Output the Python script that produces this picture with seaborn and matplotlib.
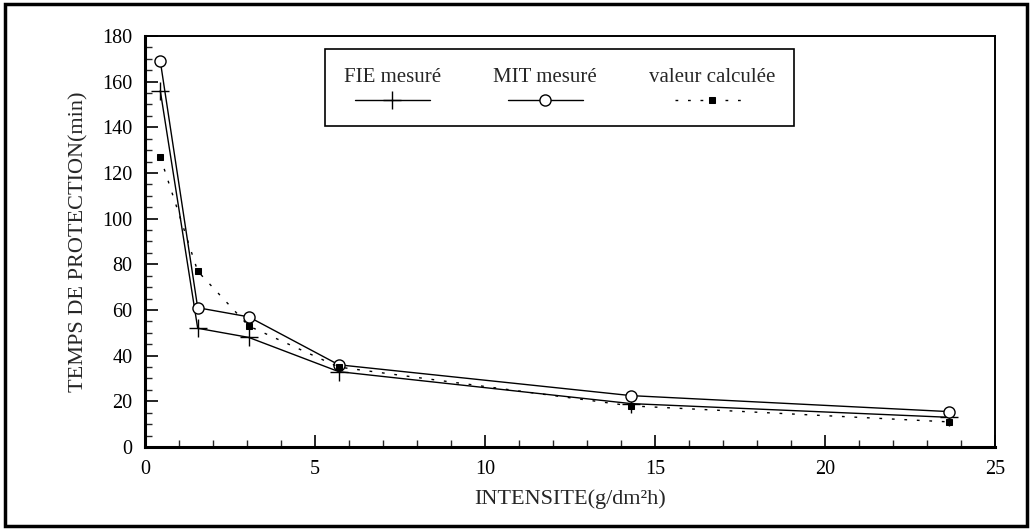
import matplotlib
matplotlib.use("Agg")
import matplotlib.pyplot as plt
import seaborn as sns
from matplotlib.offsetbox import VPacker
from matplotlib.patches import Rectangle
from matplotlib.ticker import MultipleLocator

# Intensity (g/dm²h) and protection times (min)
intensite = [0.45, 1.55, 3.05, 5.7, 14.3, 23.65]
fie_mesure = [156, 52, 48, 33, 19, 13]
mit_mesure = [169, 61, 57, 36, 22.5, 15.5]
valeur_calculee = [127, 77, 53, 35, 18, 11]

labels = ["FIE mesuré", "MIT mesuré", "valeur calculée"]

sns.set_style("ticks")
plt.rcParams["font.family"] = ["Liberation Serif", "DejaVu Serif"]

fig = plt.figure(figsize=(10.32, 5.30), dpi=100)
ax = fig.add_axes([0.1405, 0.1566, 0.8236, 0.7755])

sns.lineplot(x=intensite, y=fie_mesure, ax=ax, color="black", linewidth=1.0,
             marker="+", markersize=13, markeredgewidth=1.0,
             markeredgecolor="black", label=labels[0])
sns.lineplot(x=intensite, y=mit_mesure, ax=ax, color="black", linewidth=1.0,
             marker="o", markersize=8, markerfacecolor="white",
             markeredgecolor="black", markeredgewidth=1.0, label=labels[1])
sns.lineplot(x=intensite, y=valeur_calculee, ax=ax, color="black", linewidth=1.0,
             linestyle=(0, (2, 7)), marker="s", markersize=5,
             markerfacecolor="black", markeredgecolor="black", label=labels[2])

ax.set_xlim(0, 25)
ax.set_ylim(0, 180)
ax.xaxis.set_major_locator(MultipleLocator(5))
ax.xaxis.set_minor_locator(MultipleLocator(1))
ax.yaxis.set_major_locator(MultipleLocator(20))
ax.yaxis.set_minor_locator(MultipleLocator(5))
ax.tick_params(which="major", direction="in", length=9, width=1.2,
               labelsize=14.5, colors="black", pad=9)
ax.tick_params(which="minor", direction="in", length=5, width=1.0)
ax.tick_params(top=False, right=False, which="both")
for side in ["left", "bottom"]:
    ax.spines[side].set_linewidth(2.2)
for side in ["top", "right"]:
    ax.spines[side].set_linewidth(1.4)
    ax.spines[side].set_visible(True)
for s in ax.spines.values():
    s.set_color("black")

ax.set_xlabel("INTENSITE(g/dm²h)", fontsize=16, labelpad=8)
ax.set_ylabel("TEMPS DE PROTECTION(min)", fontsize=16, labelpad=10)

# Legend: label stacked above its line sample, three columns
leg = ax.legend(loc="upper left", bbox_to_anchor=(0.212, 0.968), ncol=3,
                markerfirst=False, fontsize=15, handlelength=3.6,
                columnspacing=2.5, frameon=True, fancybox=False,
                edgecolor="black", framealpha=1, borderpad=0.9,
                borderaxespad=0)
leg.get_frame().set_linewidth(1.2)
for col in leg._legend_handle_box.get_children():
    for item in col.get_children():
        item.__class__ = VPacker
        item.align = "center"
        item.sep = 4

# Outer border around the whole figure
fig.patches.append(Rectangle((0.005, 0.008), 0.99, 0.984, transform=fig.transFigure,
                             fill=False, edgecolor="black", linewidth=2.5))

fig.savefig("out.png", dpi=100)
